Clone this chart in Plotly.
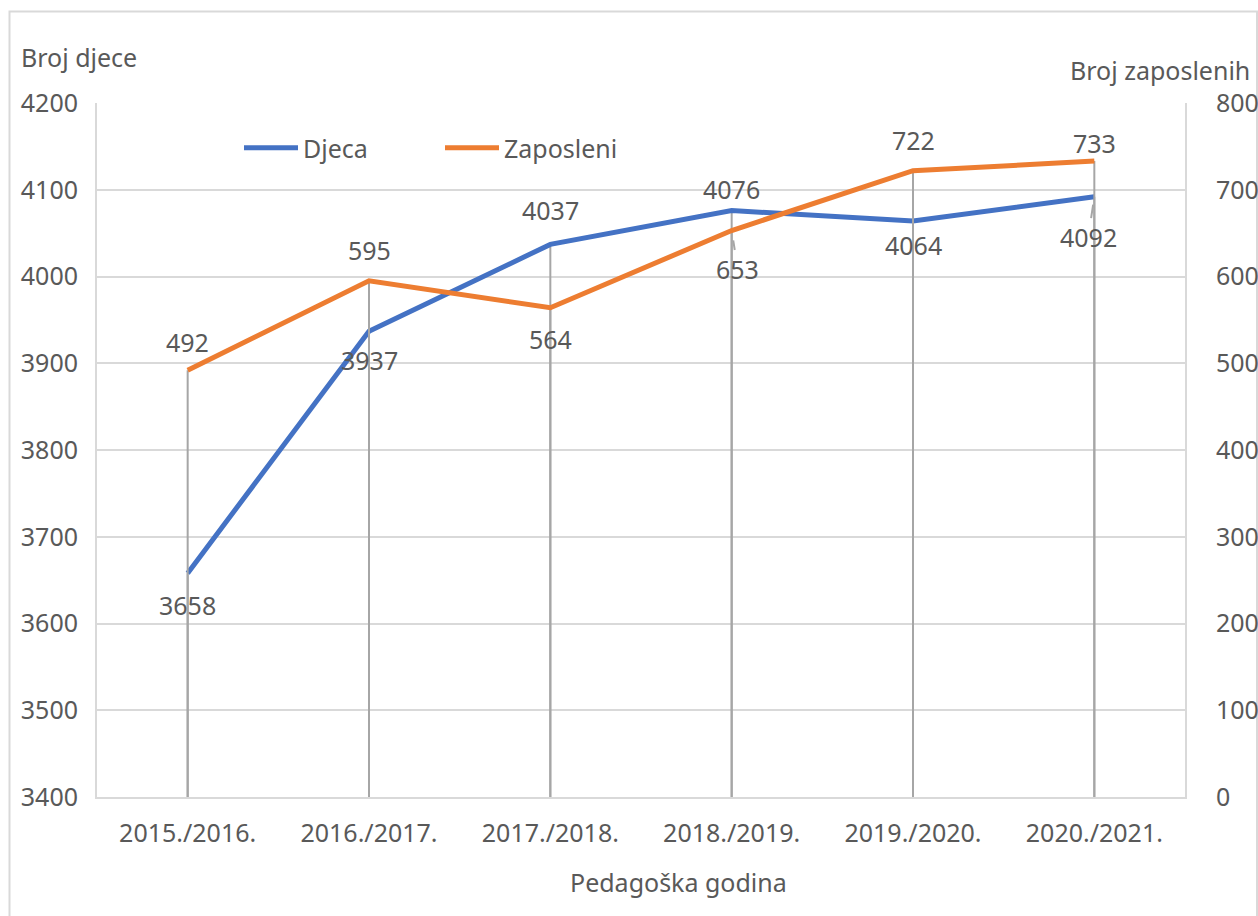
import plotly.graph_objects as go

categories = ["2015./2016.", "2016./2017.", "2017./2018.", "2018./2019.", "2019./2020.", "2020./2021."]
djeca = [3658, 3937, 4037, 4076, 4064, 4092]
zaposleni = [492, 595, 564, 653, 722, 733]

left_ticks = [3400, 3500, 3600, 3700, 3800, 3900, 4000, 4100, 4200]
right_ticks = [0, 100, 200, 300, 400, 500, 600, 700, 800]

# label offsets (pixels, positive = up)
djeca_shift = [-32, -29, 34, 22, -24, -40]
zap_shift = [28, 31, -31, -38, 31, 18]

BLUE = "#4472C4"
ORANGE = "#ED7D31"
TXT = "#595959"
GRID = "#D9D9D9"
DROP = "#A6A6A6"
FONT = "Noto Sans"
FS = 25

W, H = 1258, 916
L, R, T, B = 97, 73, 103, 119
pw, ph = W - L - R, H - T - B

def px_x(p):
    return (p - L) / pw

def px_y(p):
    return (H - B - p) / ph

fig = go.Figure()

# drop lines
for i, c in enumerate(categories):
    fig.add_trace(go.Scatter(x=[c, c], y=[left_ticks[0], djeca[i]], mode="lines",
                             line=dict(color=DROP, width=2), showlegend=False,
                             hoverinfo="skip", yaxis="y"))
    fig.add_trace(go.Scatter(x=[c, c], y=[right_ticks[0], zaposleni[i]], mode="lines",
                             line=dict(color=DROP, width=2), showlegend=False,
                             hoverinfo="skip", yaxis="y2"))

fig.add_trace(go.Scatter(x=categories, y=djeca, name="Djeca", mode="lines",
                         line=dict(color=BLUE, width=5), yaxis="y"))
fig.add_trace(go.Scatter(x=categories, y=zaposleni, name="Zaposleni", mode="lines",
                         line=dict(color=ORANGE, width=5), yaxis="y2"))

annotations = []
for i, c in enumerate(categories):
    if i == 5:
        annotations.append(dict(x=c, y=djeca[i], xref="x", yref="y", text=str(djeca[i]),
                                showarrow=True, arrowhead=0, arrowcolor=DROP, arrowwidth=2,
                                ax=-6, ay=-djeca_shift[i], standoff=8,
                                font=dict(family=FONT, size=FS, color=TXT)))
    else:
        annotations.append(dict(x=c, y=djeca[i], xref="x", yref="y", text=str(djeca[i]),
                                showarrow=False, yshift=djeca_shift[i],
                                font=dict(family=FONT, size=FS, color=TXT)))
    if i == 3:
        annotations.append(dict(x=c, y=zaposleni[i], xref="x", yref="y2", text=str(zaposleni[i]),
                                showarrow=True, arrowhead=0, arrowcolor=DROP, arrowwidth=2,
                                ax=6, ay=-zap_shift[i], standoff=10,
                                font=dict(family=FONT, size=FS, color=TXT)))
    else:
        annotations.append(dict(x=c, y=zaposleni[i], xref="x", yref="y2", text=str(zaposleni[i]),
                                showarrow=False, yshift=zap_shift[i],
                                font=dict(family=FONT, size=FS, color=TXT)))

annotations += [
    dict(x=px_x(19), y=px_y(57), xref="paper", yref="paper", text="Broj djece",
         showarrow=False, xanchor="left", yanchor="middle",
         font=dict(family=FONT, size=FS, color=TXT)),
    dict(x=px_x(1252), y=px_y(70), xref="paper", yref="paper", text="Broj zaposlenih",
         showarrow=False, xanchor="right", yanchor="middle",
         font=dict(family=FONT, size=FS, color=TXT)),
    dict(x=px_x(678), y=px_y(882), xref="paper", yref="paper", text="Pedagoška godina",
         showarrow=False, xanchor="center", yanchor="middle",
         font=dict(family=FONT, size=FS, color=TXT)),
]

fig.update_layout(
    width=W, height=H,
    margin=dict(l=L, r=R, t=T, b=B, autoexpand=False),
    paper_bgcolor="white", plot_bgcolor="white",
    font=dict(family=FONT, size=FS, color=TXT),
    showlegend=True,
    legend=dict(orientation="h", x=px_x(239), y=px_y(148), xanchor="left", yanchor="middle",
                entrywidth=132, entrywidthmode="pixels", bgcolor="rgba(0,0,0,0)",
                font=dict(family=FONT, size=FS, color=TXT), itemwidth=54),
    xaxis=dict(type="category", range=[-0.5, len(categories) - 0.5], showgrid=False,
               showline=True, linecolor=GRID, linewidth=2, ticks="", ticklabelstandoff=13,
               automargin=False,
               tickfont=dict(family=FONT, size=FS, color=TXT), zeroline=False, fixedrange=True),
    yaxis=dict(range=[left_ticks[0], left_ticks[-1]], tickvals=left_ticks, showgrid=True,
               gridcolor=GRID, gridwidth=2, showline=True, linecolor=GRID, linewidth=2,
               ticks="", ticklabelstandoff=12, zeroline=False, automargin=False,
               tickfont=dict(family=FONT, size=FS, color=TXT)),
    yaxis2=dict(range=[right_ticks[0], right_ticks[-1]], tickvals=right_ticks, overlaying="y",
                side="right", showgrid=False, showline=True, linecolor=GRID, linewidth=2,
                ticks="", ticklabelstandoff=24, zeroline=False, automargin=False,
                tickfont=dict(family=FONT, size=FS, color=TXT)),
    annotations=annotations,
    shapes=[dict(type="rect", xref="paper", yref="paper",
                 x0=px_x(9.5), x1=px_x(1257), y0=px_y(930), y1=px_y(11.5),
                 line=dict(color=GRID, width=2), fillcolor="rgba(0,0,0,0)", layer="below")],
)

post = ("document.documentElement.style.margin='0';document.body.style.margin='0';"
        "document.documentElement.style.overflow='hidden';document.body.style.overflow='hidden';")
fig.write_html("out.html", post_script=post, config={"displayModeBar": False})
